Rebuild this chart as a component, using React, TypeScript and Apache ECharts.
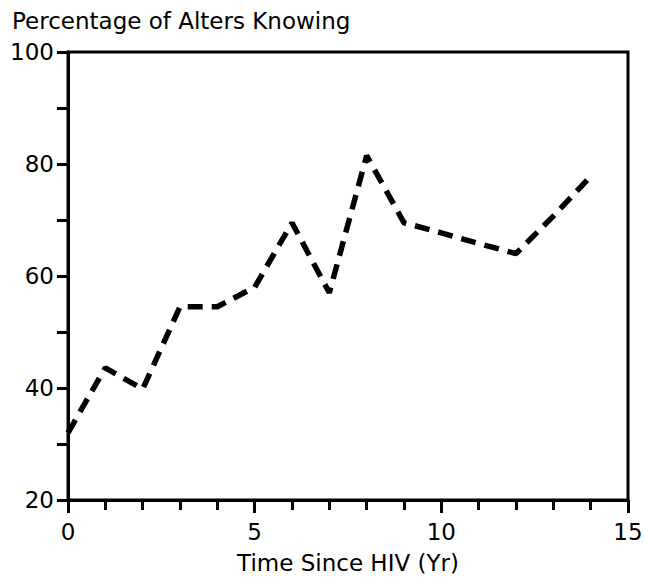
import React, { useEffect, useRef } from "react";
import * as echarts from "echarts";

const years = [0, 1, 2, 3, 4, 5, 6, 7, 8, 9, 10, 11, 12, 13, 14];
const pctKnowing = [32, 43.6, 39.8, 54.5, 54.5, 58, 69.5, 57, 81.5, 69.5, 67.7, 65.8, 64, 70.7, 77.8];
const titleText = "Percentage of Alters Knowing";
const xAxisName = "Time Since HIV (Yr)";

export default function App() {
  const ref = useRef<HTMLDivElement>(null);
  useEffect(() => {
    if (!ref.current) return;
    const chart = echarts.init(ref.current, null, { renderer: "svg" });
    const font = "DejaVu Sans";
    chart.setOption({
      animation: false,
      backgroundColor: "#fff",
      title: {
        text: titleText,
        left: 7,
        top: 4,
        textStyle: { fontFamily: font, fontSize: 23, fontWeight: "normal", color: "#000" },
      },
      grid: {
        left: 68,
        right: 17,
        top: 52,
        bottom: 83,
        outerBoundsMode: "none",
        containLabel: false,
        show: true,
        borderColor: "#000",
        borderWidth: 3,
        backgroundColor: "transparent",
      },
      xAxis: {
        type: "value",
        min: 0,
        max: 15,
        interval: 5,
        name: xAxisName,
        nameLocation: "middle",
        nameGap: 51,
        nameTextStyle: { fontFamily: font, fontSize: 23, color: "#000" },
        axisLine: { show: true, lineStyle: { color: "#000", width: 3 } },
        axisTick: { show: true, inside: false, length: 13, lineStyle: { color: "#000", width: 3 } },
        minorTick: { show: true, splitNumber: 5, length: 10, lineStyle: { color: "#000", width: 3 } },
        splitLine: { show: false },
        axisLabel: { fontFamily: font, fontSize: 23, color: "#000", margin: 20 },
      },
      yAxis: {
        type: "value",
        min: 20,
        max: 100,
        interval: 20,
        axisLine: { show: true, lineStyle: { color: "#000", width: 3 } },
        axisTick: { show: true, inside: false, length: 11, lineStyle: { color: "#000", width: 3 } },
        minorTick: { show: true, splitNumber: 2, length: 11, lineStyle: { color: "#000", width: 3 } },
        splitLine: { show: false },
        axisLabel: { fontFamily: font, fontSize: 23, color: "#000", margin: 14 },
      },
      series: [
        {
          type: "line",
          data: years.map((y, i) => [y, pctKnowing[i]]),
          showSymbol: false,
          symbol: "none",
          lineStyle: { color: "#000", width: 5.5, type: [15, 9] },
        },
      ],
    });
    return () => chart.dispose();
  }, []);
  return (
    <div
      ref={ref}
      style={{ position: "absolute", left: 0, top: 0, width: 645, height: 583 }}
    />
  );
}
